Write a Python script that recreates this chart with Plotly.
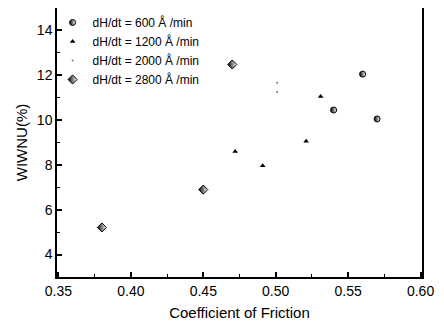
import plotly.graph_objects as go

# Data
cof_600 = [0.54, 0.56, 0.57]
wiwnu_600 = [10.45, 12.05, 10.05]

cof_1200 = [0.472, 0.491, 0.521, 0.531]
wiwnu_1200 = [8.6, 7.96, 9.06, 11.05]

cof_2000 = [0.501, 0.501]
wiwnu_2000 = [11.67, 11.25]

cof_2800 = [0.38, 0.45, 0.47]
wiwnu_2800 = [5.21, 6.9, 12.48]

labels = ["dH/dt = 600 Å /min", "dH/dt = 1200 Å /min",
          "dH/dt = 2000 Å /min", "dH/dt = 2800 Å /min"]

x_tickvals = [0.35, 0.40, 0.45, 0.50, 0.55, 0.60]
x_ticktext = ["0.35", "0.40", "0.45", "0.50", "0.55", "0.60"]
y_tickvals = [4, 6, 8, 10, 12, 14]

FONT = "Liberation Sans, Arial, sans-serif"

fig = go.Figure()
fig.add_trace(go.Scatter(
    x=cof_600, y=wiwnu_600, mode="markers", name=labels[0],
    marker=dict(symbol="circle", size=6, color="black",
                gradient=dict(type="horizontal", color="white"),
                line=dict(color="black", width=1))))
fig.add_trace(go.Scatter(
    x=cof_1200, y=wiwnu_1200, mode="markers", name=labels[1],
    marker=dict(symbol="triangle-up", size=5, color="black",
                line=dict(width=0))))
fig.add_trace(go.Scatter(
    x=cof_2000, y=wiwnu_2000, mode="markers", name=labels[2],
    marker=dict(symbol="circle", size=2, color="#777777",
                line=dict(width=0))))
fig.add_trace(go.Scatter(
    x=cof_2800, y=wiwnu_2800, mode="markers", name=labels[3],
    marker=dict(symbol="diamond", size=7, color="black",
                gradient=dict(type="horizontal", color="white"),
                line=dict(color="black", width=1))))

axis_common = dict(
    showline=True, linecolor="black", linewidth=1.5, mirror=True,
    ticks="inside", ticklen=5, tickcolor="#000000", tickwidth=1.5,
    showgrid=False, zeroline=False,
    tickfont=dict(family=FONT, size=14, color="black"),
)

fig.update_xaxes(
    range=[0.349, 0.601], tickmode="array",
    tickvals=x_tickvals, ticktext=x_ticktext,
    minor=dict(ticks="inside", ticklen=3, dtick=0.025, tickcolor="black", tickwidth=1),
    title=dict(text="Coefficient of Friction",
               font=dict(family=FONT, size=15, color="black"),
               standoff=10),
    **axis_common)
fig.update_yaxes(
    range=[3, 15], tickmode="array", tickvals=y_tickvals,
    minor=dict(ticks="inside", ticklen=3, dtick=1, tickcolor="black", tickwidth=1),
    title=dict(text="WIWNU(%)",
               font=dict(family=FONT, size=15, color="black"),
               standoff=6),
    **axis_common)

# The page body has an 8 px margin, so the figure is sized to fit the window
fig.update_layout(
    width=436, height=320,
    margin=dict(l=49, r=22, t=0, b=51, autoexpand=False),
    paper_bgcolor="white", plot_bgcolor="white",
    font=dict(family=FONT, color="black"),
    legend=dict(x=-0.012, y=1.0, xanchor="left", yanchor="top",
                bgcolor="rgba(0,0,0,0)", borderwidth=0,
                font=dict(size=12, family=FONT),
                tracegroupgap=0, itemwidth=30),
)

fig.write_html("out.html")
